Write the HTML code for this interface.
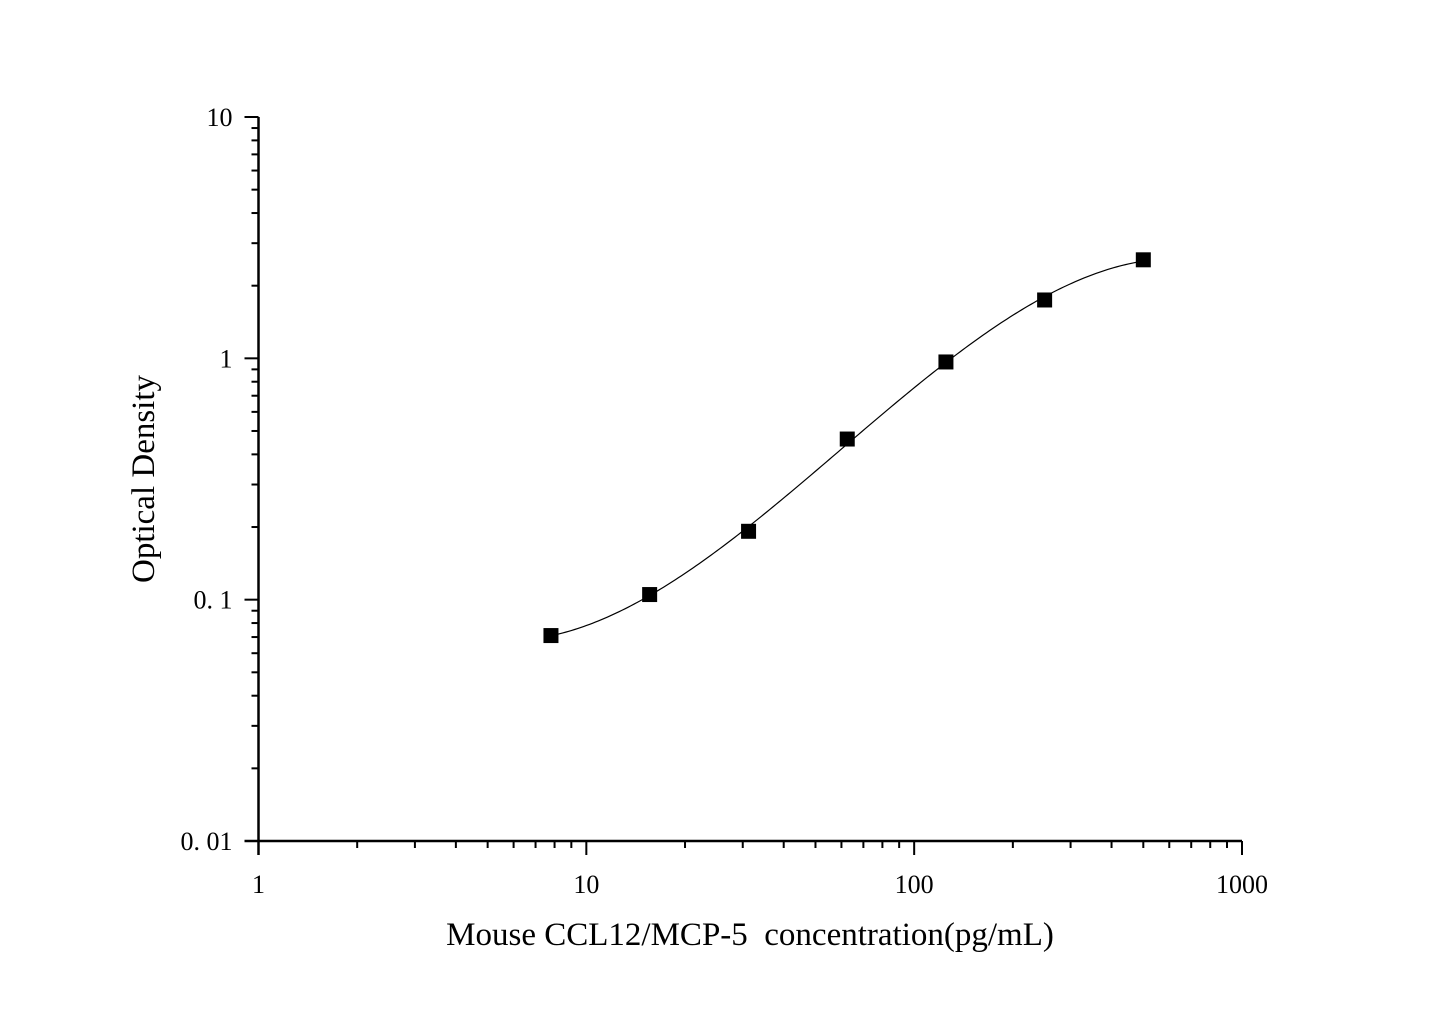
<!DOCTYPE html>
<html><head><meta charset="utf-8"><style>
html,body{margin:0;padding:0;background:#fff;}
svg text{font-family:"Liberation Serif",serif;fill:#000;}
</style></head><body>
<svg id="chart" width="1445" height="1010" viewBox="0 0 1445 1010" xmlns="http://www.w3.org/2000/svg">
<g id="axes"></g>
<g id="curve"></g>
<g id="points"></g>
<text x="750" y="945" font-size="33" text-anchor="middle" xml:space="preserve">Mouse CCL12/MCP-5  concentration(pg/mL)</text>
<text transform="translate(154,479) rotate(-90)" font-size="33" text-anchor="middle">Optical Density</text>
</svg>
<script>
const concentrations = [7.8, 15.6, 31.25, 62.5, 125, 250, 500];
const odValues = [0.071, 0.105, 0.192, 0.463, 0.966, 1.745, 2.56];
const xTickValues = [1, 10, 100, 1000];
const xTickLabels = ["1", "10", "100", "1000"];
const yTickValues = [0.01, 0.1, 1, 10];
const yTickLabels = ["0. 01", "0. 1", "1", "10"];

const X0 = 258.5, X1 = 1242, Y0 = 841, Y1 = 117;
const xs = v => X0 + (Math.log10(v) - 0) / 3 * (X1 - X0);
const ys = v => Y0 - (Math.log10(v) + 2) / 3 * (Y0 - Y1);
const NS = "http://www.w3.org/2000/svg";
function mk(parent, tag, attrs) {
  const e = document.createElementNS(NS, tag);
  for (const k in attrs) e.setAttribute(k, attrs[k]);
  parent.appendChild(e);
  return e;
}
const axes = document.getElementById('axes');
const xl = mk(axes, 'line', {x1: X0, y1: Y0, x2: X1, y2: Y0, stroke: '#000', 'stroke-width': 2.5});


const yl = mk(axes, 'line', {x1: X0, y1: Y0 + 14, x2: X0, y2: Y1, stroke: '#000', 'stroke-width': 2.5});


mk(axes, 'line', {x1: X0 - 14, y1: Y0, x2: X0, y2: Y0, stroke: '#000', 'stroke-width': 2.5});

xTickValues.forEach((v, i) => {
  const x = xs(v);
  const t = mk(axes, 'line', {x1: x, y1: Y0, x2: x, y2: Y0 + 14, stroke: '#000', 'stroke-width': 2});
  
  
  const l = mk(axes, 'text', {x: x, y: Y0 + 52, 'font-size': 26, 'text-anchor': 'middle'});
  l.textContent = xTickLabels[i];
  
  
  if (i < xTickValues.length - 1) for (let m = 2; m <= 9; m++) {
    const mx = xs(v * m);
    const mt = mk(axes, 'line', {x1: mx, y1: Y0, x2: mx, y2: Y0 + 7, stroke: '#000', 'stroke-width': 2});
    
    
  }
});
yTickValues.forEach((v, i) => {
  const y = ys(v);
  const t = mk(axes, 'line', {x1: X0 - 14, y1: y, x2: X0, y2: y, stroke: '#000', 'stroke-width': 2});
  
  
  const l = mk(axes, 'text', {x: X0 - 26, y: y + 9, 'font-size': 26, 'text-anchor': 'end'});
  l.textContent = yTickLabels[i];
  
  
  if (i < yTickValues.length - 1) for (let m = 2; m <= 9; m++) {
    const my = ys(v * m);
    const mt = mk(axes, 'line', {x1: X0 - 7, y1: my, x2: X0, y2: my, stroke: '#000', 'stroke-width': 2});
    
    
  }
});

// least-squares cubic fit in log-log space
const lx = concentrations.map(Math.log10), ly = odValues.map(Math.log10);
const n = 4, A = [], B = [];
for (let r = 0; r < n; r++) { A.push(new Array(n).fill(0)); B.push(0); }
lx.forEach((x, k) => {
  for (let r = 0; r < n; r++) {
    B[r] += Math.pow(x, r) * ly[k];
    for (let c = 0; c < n; c++) A[r][c] += Math.pow(x, r + c);
  }
});
for (let p = 0; p < n; p++) {
  for (let r = p + 1; r < n; r++) {
    const f = A[r][p] / A[p][p];
    for (let c = p; c < n; c++) A[r][c] -= f * A[p][c];
    B[r] -= f * B[p];
  }
}
const coef = new Array(n).fill(0);
for (let r = n - 1; r >= 0; r--) {
  let s = B[r];
  for (let c = r + 1; c < n; c++) s -= A[r][c] * coef[c];
  coef[r] = s / A[r][r];
}
const fit = x => coef.reduce((s, c, i) => s + c * Math.pow(x, i), 0);
let d = '';
const a = lx[0], b = lx[lx.length - 1];
for (let i = 0; i <= 200; i++) {
  const x = a + (b - a) * i / 200;
  d += (i ? 'L' : 'M') + xs(Math.pow(10, x)).toFixed(2) + ',' + ys(Math.pow(10, fit(x))).toFixed(2);
}
const cp = mk(document.getElementById('curve'), 'path', {d: d, fill: 'none', stroke: '#000', 'stroke-width': 1.2});



const pts = document.getElementById('points');
concentrations.forEach((c, i) => {
  const r = mk(pts, 'rect', {x: xs(c) - 7.5, y: ys(odValues[i]) - 7.5, width: 15, height: 15, fill: '#000'});
  
  
});
</script>
</body></html>
